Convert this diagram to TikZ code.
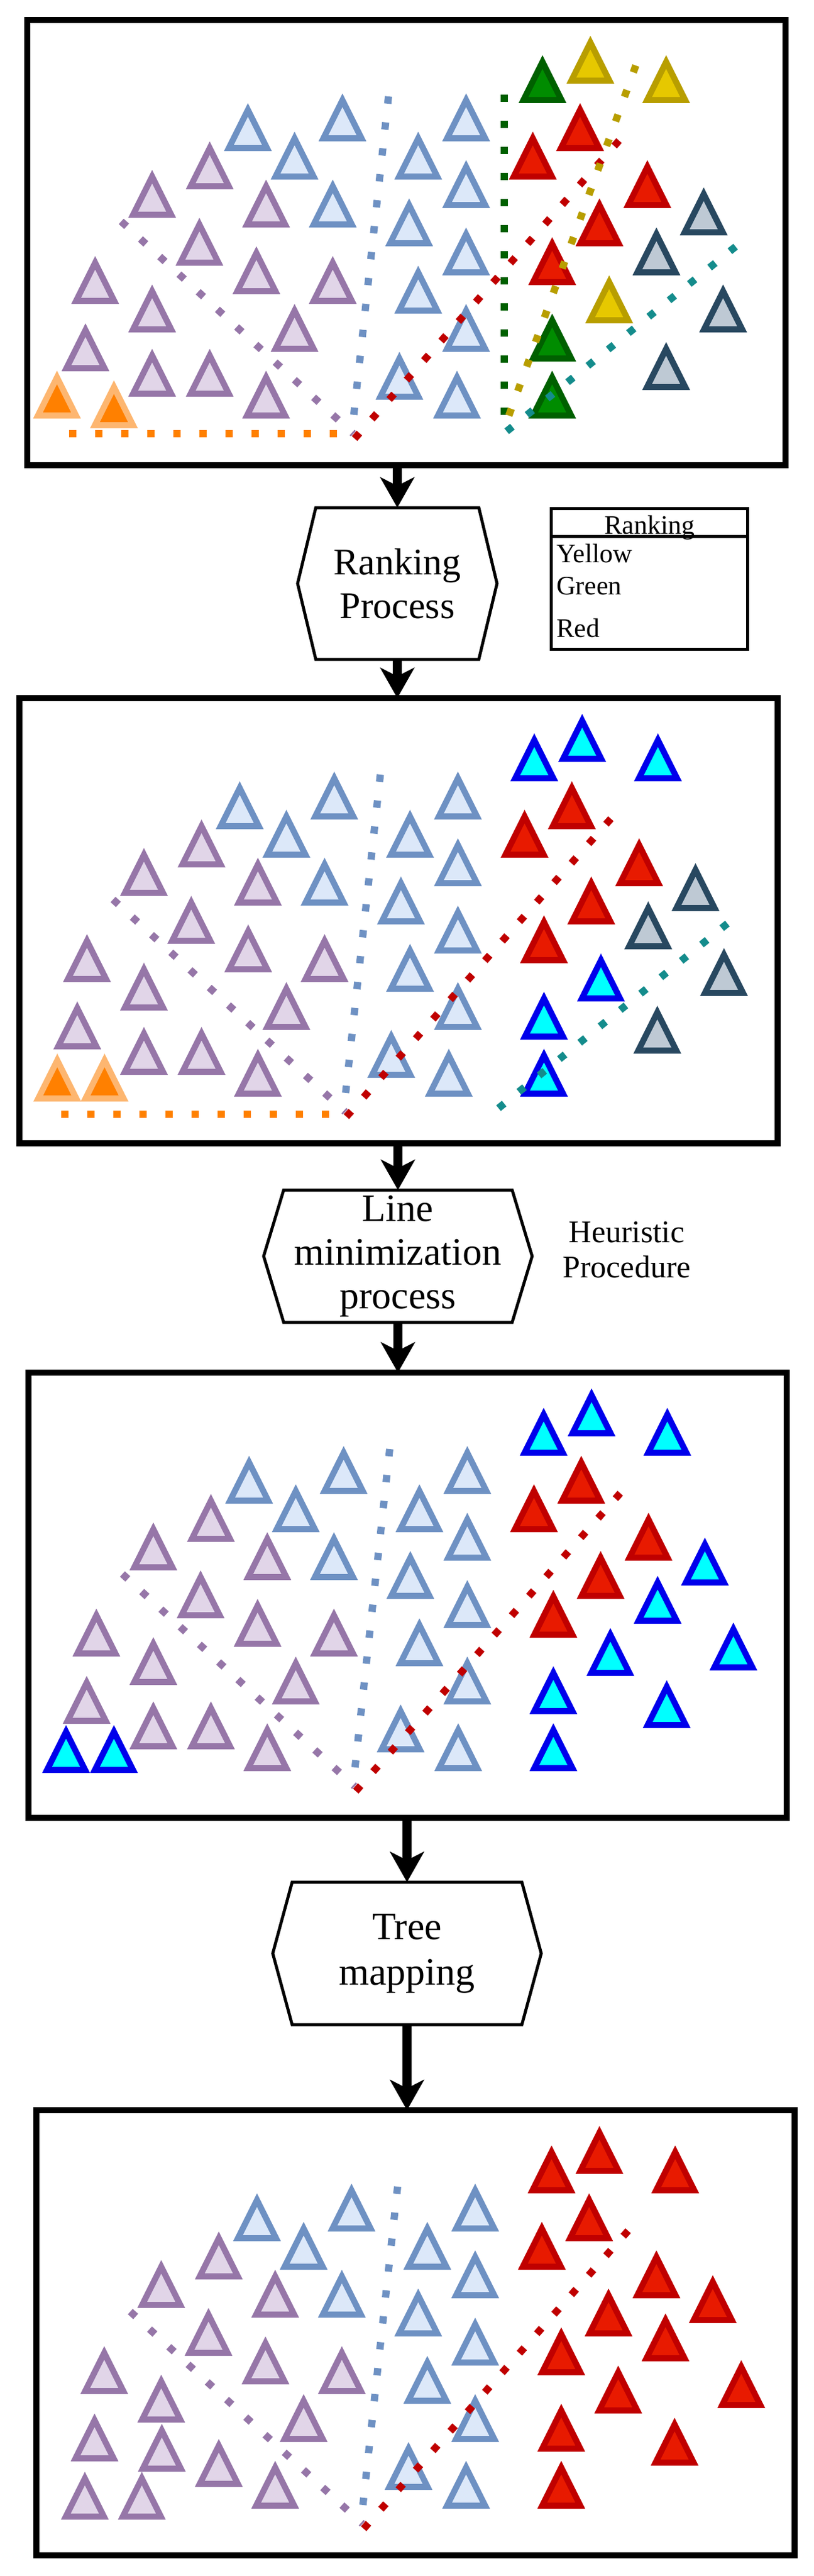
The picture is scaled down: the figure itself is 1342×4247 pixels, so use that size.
\documentclass[tikz,border=0pt]{standalone}
\usepackage{fontspec}
\setmainfont{Liberation Serif}
\usetikzlibrary{arrows.meta,positioning}

\definecolor{lilacdraw}{RGB}{150,118,168}
\definecolor{lilacfill}{RGB}{225,213,232}
\definecolor{skydraw}{RGB}{110,145,195}
\definecolor{skyfill}{RGB}{220,232,249}
\definecolor{rubydraw}{RGB}{192,0,0}
\definecolor{rubyfill}{RGB}{232,26,0}
\definecolor{leafdraw}{RGB}{0,96,0}
\definecolor{leaffill}{RGB}{0,140,0}
\definecolor{golddraw}{RGB}{184,158,0}
\definecolor{goldfill}{RGB}{230,200,0}
\definecolor{slatedraw}{RGB}{40,72,96}
\definecolor{slatefill}{RGB}{190,201,212}
\definecolor{amberdraw}{RGB}{253,182,112}
\definecolor{amberfill}{RGB}{255,128,0}
\definecolor{aquadraw}{RGB}{0,0,235}
\definecolor{aquafill}{RGB}{0,255,255}
\definecolor{tealdot}{RGB}{20,140,140}

\newcommand{\drawtri}[3]{\draw[tri,#1] ({#2-31.4},{#3-5}) -- ({#2+31.4},{#3-5}) -- (#2,{#3-67.8}) -- cycle;}
\newcommand{\hexframe}[2]{\draw[hexline] (#1.north west) -- (#1.north east) -- ([xshift=#2]#1.east) -- (#1.south east) -- (#1.south west) -- ([xshift=-#2]#1.west) -- cycle;}
\newcommand{\basegroup}{%
  \foreach \x/\y in {301/279,206/326,394/342,284/405,112/468,378/452,504/468,206/515,441/547,96/579,301/621,394/657}
    {\drawtri{lilac}{\x}{\y}}
  \foreach \x/\y in {364/216,520/200,441/263,504/342,724/200,645/263,724/310,630/373,724/421,645/484,724/547,614/626,709/657}
    {\drawtri{sky}{\x}{\y}}
  \foreach \x/\y in {912/216,834/263,1023/310,944/373,866/437}
    {\drawtri{ruby}{\x}{\y}}}
\newcommand{\topgroup}[1]{\foreach \x/\y in {850/137,929/105,1054/137,960/500,866/563,866/657}{\drawtri{#1}{\x}{\y}}}
\newcommand{\rimgroup}[1]{\foreach \x/\y in {1116/351,1038/414,1163/491,1053/586}{\drawtri{#1}{\x}{\y}}}
\newcommand{\splitlines}{%
  \draw[lilacdots] (155,332) -- (538,682);
  \draw[skydots] (596,126) -- (536,676);
  \draw[rubydots] (540,690) -- (993,180);}

\begin{document}
\begin{tikzpicture}[x=1pt,y=-1pt,
    panel/.style={draw,line width=10pt,fill=white,minimum width=1251pt,minimum height=734pt,inner sep=0pt,outer sep=0pt},
    hexbox/.style={align=center,inner sep=0pt,outer sep=0pt,font=\fontsize{62}{72}\selectfont},
    hexline/.style={line width=5pt,line join=miter},
    legbox/.style={draw,line width=5pt,minimum width=324pt,minimum height=232pt,inner sep=0pt,outer sep=0pt},
    legtext/.style={inner sep=0pt,font=\fontsize{44}{50}\selectfont},
    flow/.style={line width=15pt,-{Stealth[length=50pt,width=56pt,inset=14pt]}},
    tri/.style={line width=10pt,line join=miter},
    lilac/.style={draw=lilacdraw,fill=lilacfill},
    sky/.style={draw=skydraw,fill=skyfill},
    ruby/.style={draw=rubydraw,fill=rubyfill},
    leaf/.style={draw=leafdraw,fill=leaffill},
    gold/.style={draw=golddraw,fill=goldfill},
    slate/.style={draw=slatedraw,fill=slatefill},
    amber/.style={draw=amberdraw,fill=amberfill},
    aqua/.style={draw=aquadraw,fill=aquafill},
    dots/.style={line width=12pt,dash pattern=on 12pt off 31pt},
    lilacdots/.style={dots,draw=lilacdraw},
    skydots/.style={dots,draw=skydraw},
    rubydots/.style={dots,draw=rubydraw},
    amberdots/.style={dots,draw=amberfill},
    leafdots/.style={dots,draw=leafdraw},
    golddots/.style={dots,draw=golddraw},
    tealdots/.style={dots,draw=tealdot}]
  \useasboundingbox (0,0) rectangle (1342,4247);

  \node[panel] (scatter) at (670.5,400) {};
  \node[panel] (ranked) at (657,1518) {};
  \node[panel] (reduced) at (672.5,2630) {};
  \node[panel] (mapped) at (685.5,3846) {};

  \begin{scope}[shift={(scatter.north west)}]
    \basegroup
    \drawtri{lilac}{206}{621}
    \foreach \x/\y in {850/137,866/563,866/657}{\drawtri{leaf}{\x}{\y}}
    \foreach \x/\y in {929/105,1054/137,960/500}{\drawtri{gold}{\x}{\y}}
    \foreach \x/\y in {1116/355,1038/421,1148/515,1054/610}{\drawtri{slate}{\x}{\y}}
    \drawtri{amber}{49}{657}
    \drawtri{amber}{143}{673}
    \splitlines
    \draw[amberdots] (69,682) -- (538,682);
    \draw[leafdots] (787,123) -- (787,673);
    \draw[golddots] (1004,75) -- (787,673);
    \draw[tealdots] (791,678) -- (1188,358);
  \end{scope}

  \begin{scope}[shift={(ranked.north west)}]
    \basegroup
    \drawtri{lilac}{206}{621}
    \topgroup{aqua}
    \rimgroup{slate}
    \drawtri{amber}{63}{665}
    \drawtri{amber}{141}{665}
    \splitlines
    \draw[amberdots] (69,686) -- (538,686);
    \draw[tealdots] (791,676) -- (1188,356);
  \end{scope}

  \begin{scope}[shift={(reduced.north west)}]
    \basegroup
    \drawtri{lilac}{206}{621}
    \topgroup{aqua}
    \rimgroup{aqua}
    \drawtri{aqua}{62}{660}
    \drawtri{aqua}{141}{660}
    \splitlines
  \end{scope}

  \begin{scope}[shift={(mapped.north west)}]
    \basegroup
    \topgroup{ruby}
    \rimgroup{ruby}
    \foreach \x/\y in {80/675,174/675,207/596}{\drawtri{lilac}{\x}{\y}}
    \splitlines
  \end{scope}

  \node[hexbox,minimum width=269pt,minimum height=250pt] (rank) at (655.5,962) {Ranking\\Process};
  \hexframe{rank}{30pt}
  \node[legbox] (legend) at (1071,954) {};
  \draw[line width=5pt] ([yshift=-46pt]legend.north west) -- ([yshift=-46pt]legend.north east);
  \node[legtext,anchor=base] (legtitle) at (1072,880) {Ranking};
  \node[legtext,anchor=base west] (legyellow) at (918,927) {Yellow};
  \node[legtext,anchor=base west] (leggreen) at (918,980) {Green};
  \node[legtext,anchor=base west] (legred) at (918,1050) {Red};

  \node[hexbox,minimum width=377pt,minimum height=218pt,font=\fontsize{64}{72}\selectfont] (lines) at (656.5,2071) {Line\\minimization\\process};
  \hexframe{lines}{33pt}
  \node[hexbox,font=\fontsize{52}{58}\selectfont] (heur) at (1034,2061) {Heuristic\\Procedure};

  \node[hexbox,minimum width=379pt,minimum height=235pt,font=\fontsize{64}{75}\selectfont] (tree) at (671.5,3220.5) {Tree\\mapping};
  \hexframe{tree}{32pt}

  \draw[flow] (scatter.south -| rank.north) -- (rank.north);
  \draw[flow] (rank.south) -- (rank.south |- ranked.north);
  \draw[flow] (ranked.south -| lines.north) -- (lines.north);
  \draw[flow] (lines.south) -- (lines.south |- reduced.north);
  \draw[flow] (reduced.south -| tree.north) -- (tree.north);
  \draw[flow] (tree.south) -- (tree.south |- mapped.north);
\end{tikzpicture}
\end{document}
